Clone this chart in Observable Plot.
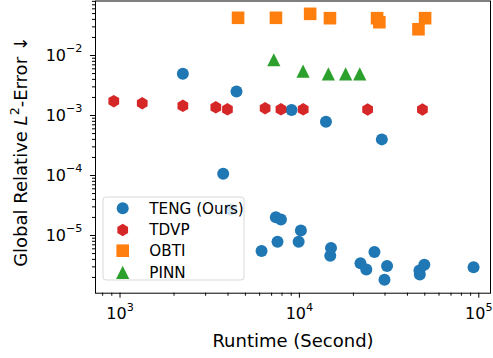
<!DOCTYPE html>
<html><head><meta charset="utf-8">
<script src="https://cdn.jsdelivr.net/npm/d3@7"></script>
<script src="https://cdn.jsdelivr.net/npm/@observablehq/plot@0.6"></script>
<style>body{margin:0;background:#fff} svg{font-family:"DejaVu Sans",sans-serif}</style>
</head><body><div id="chart"></div>
<script>
// ---- data ----
const tengRuntime = [2240, 4460, 3760, 4130, 9040, 14060, 28800, 7390, 7890, 6150, 7550, 9900, 10190, 15000, 14860, 26200, 21900, 23600, 30800, 29800, 46700, 46900, 49700, 93500];
const tengError   = [4.95e-3, 2.51e-3, 1.07e-4, 2.71e-5, 1.24e-3, 7.9e-4, 4.0e-4, 2.02e-5, 1.85e-5, 5.5e-6, 7.9e-6, 7.85e-6, 1.21e-5, 6.2e-6, 4.6e-6, 5.3e-6, 3.45e-6, 2.7e-6, 3.1e-6, 1.83e-6, 2.6e-6, 2.24e-6, 3.25e-6, 2.96e-6];
const tdvpRuntime = [923, 1330, 2240, 3420, 3970, 6440, 7890, 10500, 24000, 48500];
const tdvpError   = [1.73e-3, 1.6e-3, 1.45e-3, 1.37e-3, 1.27e-3, 1.32e-3, 1.27e-3, 1.27e-3, 1.26e-3, 1.26e-3];
const obtiRuntime = [4550, 7400, 11480, 14800, 27100, 27900, 50200, 46100];
const obtiError   = [0.0425, 0.0425, 0.0495, 0.0419, 0.0419, 0.0359, 0.0419, 0.0274];
const pinnRuntime = [7200, 10480, 14500, 18100, 21700];
const pinnError   = [8.5e-3, 5.5e-3, 4.95e-3, 4.95e-3, 4.95e-3];
const seriesNames = ["TENG (Ours)", "TDVP", "OBTI", "PINN"];
const xTicks = [1e3, 1e4, 1e5];
const yTicks = [1e-5, 1e-4, 1e-3, 1e-2];
const xLabel = "Runtime (Second)";

// ---- styling ----
const colors = ["#1f77b4", "#d62728", "#ff7f0e", "#2ca02c"];
const xDomain = [730, 116200], yDomain = [1.092e-6, 0.081];

const symHex = {draw(ctx, size) { const R = Math.sqrt(size / Math.PI);
  for (let k = 0; k < 6; ++k) { const a = -Math.PI/2 + k*Math.PI/3; const px = R*Math.cos(a), py = R*Math.sin(a);
    k ? ctx.lineTo(px, py) : ctx.moveTo(px, py); } ctx.closePath(); }};
const symSquare = {draw(ctx, size) { const s = Math.sqrt(size / Math.PI); ctx.rect(-s, -s, 2*s, 2*s); }};
const symTri = {draw(ctx, size) { const s = Math.sqrt(size / Math.PI);
  ctx.moveTo(0, -s); ctx.lineTo(-s, s); ctx.lineTo(s, s); ctx.closePath(); }};
const symbols = [d3.symbolCircle, symHex, symSquare, symTri];
const radii = [6, 6.2, 6.3, 6.6];

function minorTicks([lo, hi]) {
  const out = [];
  for (let e = Math.floor(Math.log10(lo)); e <= Math.ceil(Math.log10(hi)); ++e)
    for (let m = 2; m <= 9; ++m) { const v = m * 10 ** e; if (v >= lo && v <= hi) out.push(v); }
  return out;
}
const fmt = d => "10^" + Math.round(Math.log10(d));
const tbl = (xs, ys) => xs.map((x, i) => ({x, y: ys[i]}));
const sets = [tbl(tengRuntime, tengError), tbl(tdvpRuntime, tdvpError), tbl(obtiRuntime, obtiError), tbl(pinnRuntime, pinnError)];

const chart = Plot.plot({
  width: 493, height: 358,
  marginLeft: 95, marginRight: 3, marginTop: 0.5, marginBottom: 65.3,
  style: {fontFamily: "DejaVu Sans", fontSize: "16px", background: "white", color: "black"},
  x: {type: "log", domain: xDomain},
  y: {type: "log", domain: yDomain},
  marks: [
    Plot.axisX(minorTicks(xDomain), {tickSize: 3, tickFormat: () => "", label: null}),
    Plot.axisY(minorTicks(yDomain), {tickSize: 3, tickFormat: () => "", label: null}),
    Plot.axisX(xTicks, {tickSize: 5, tickPadding: 9.5, tickFormat: fmt, label: null, fontSize: 16}),
    Plot.axisY(yTicks, {tickSize: 5, tickPadding: 8, tickFormat: fmt, label: null, fontSize: 16}),
    ...sets.map((data, i) => Plot.dot(data, {x: "x", y: "y", r: radii[i], fill: colors[i], stroke: "none", symbol: symbols[i]})),
    Plot.frame({stroke: "black", strokeWidth: 1})
  ]
});

const svg = d3.select(chart);
// superscript tick labels
svg.selectAll("text").each(function() {
  const m = /^10\^(-?\d+)$/.exec(this.textContent);
  if (!m) return;
  const t = d3.select(this); t.text("10");
  t.append("tspan").attr("font-size", "0.7em").attr("dy", "-0.75em").text(m[1].replace("-", "\u2212"));
});
// axis labels
svg.append("text").attr("x", 293).attr("y", 346.5).attr("text-anchor", "middle")
  .attr("font-size", 18).attr("fill", "black").text(xLabel);
const yl = svg.append("text").attr("transform", "translate(26.5,151.5) rotate(-90)").attr("text-anchor", "middle")
  .attr("font-size", 18).attr("fill", "black");
yl.append("tspan").text("Global Relative ");
yl.append("tspan").attr("font-style", "italic").text("L");
yl.append("tspan").attr("font-size", 12.6).attr("dy", -7.7).text("2");
yl.append("tspan").attr("dy", 7.7).text("-Error \u2193");
// legend
const lg = svg.append("g");
lg.append("rect").attr("x", 103).attr("y", 197).attr("width", 141).attr("height", 83).attr("rx", 3)
  .attr("fill", "white").attr("fill-opacity", 0.8).attr("stroke", "#d9d9d9").attr("stroke-width", 1);
const rowY = [208.3, 230, 250.7, 272.3];
seriesNames.forEach((name, i) => {
  lg.append("path").attr("transform", `translate(122.7,${rowY[i]})`)
    .attr("d", d3.symbol(symbols[i], Math.PI * radii[i] ** 2)()).attr("fill", colors[i]);
  lg.append("text").attr("x", 149.3).attr("y", rowY[i]).attr("dy", "0.36em").attr("font-size", 15.2)
    .attr("text-anchor", "start").attr("fill", "black").text(name);
});
document.getElementById("chart").appendChild(chart);
</script>
</body></html>
